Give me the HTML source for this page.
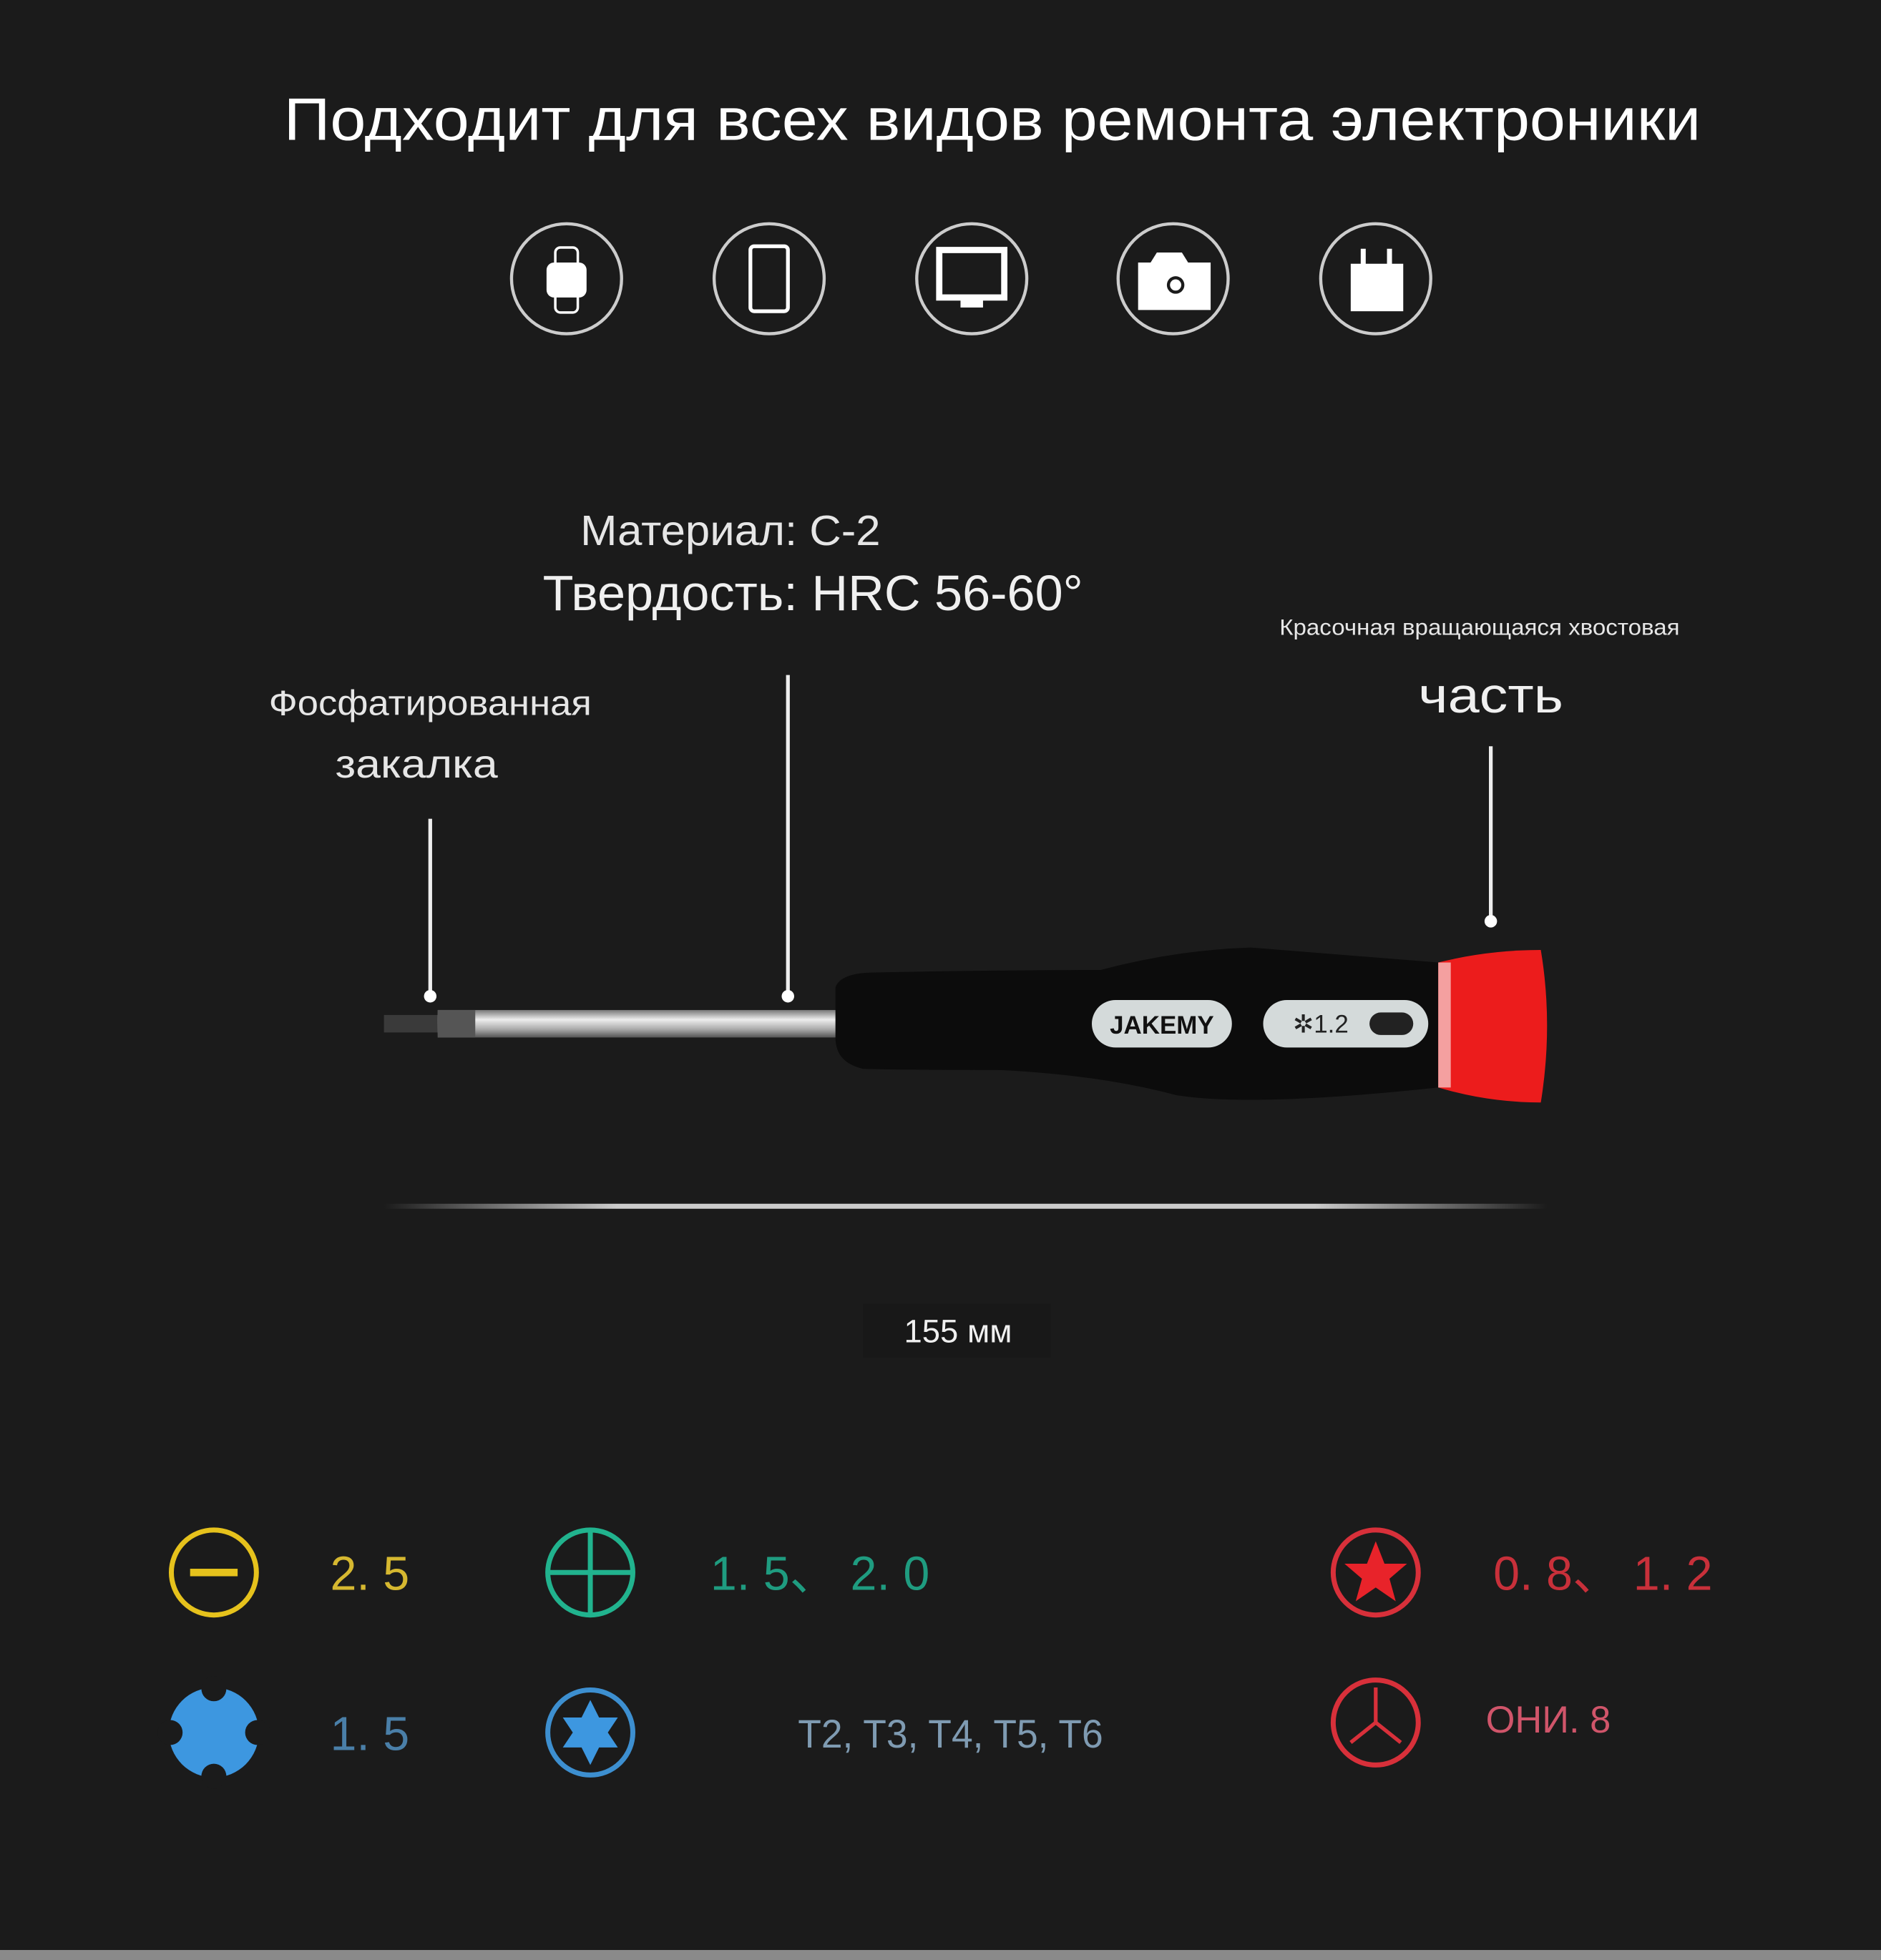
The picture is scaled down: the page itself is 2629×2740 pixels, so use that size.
<!DOCTYPE html>
<html><head><meta charset="utf-8"><style>
html,body{margin:0;padding:0;background:#1b1b1b;}
svg{display:block}
text{font-family:"Liberation Sans","DejaVu Sans",sans-serif;}
</style></head><body>
<svg width="2629" height="2740" viewBox="0 0 1504 1568" preserveAspectRatio="none" xmlns="http://www.w3.org/2000/svg">
<defs>
<linearGradient id="shaft" x1="0" y1="0" x2="0" y2="1">
<stop offset="0" stop-color="#777"/><stop offset="0.35" stop-color="#eee"/><stop offset="0.7" stop-color="#aaa"/><stop offset="1" stop-color="#555"/>
</linearGradient>
<linearGradient id="line" x1="0" y1="0" x2="1" y2="0">
<stop offset="0" stop-color="#1b1b1b"/><stop offset="0.2" stop-color="#ccc"/><stop offset="0.8" stop-color="#ccc"/><stop offset="1" stop-color="#1b1b1b"/>
</linearGradient>
</defs>
<rect width="1504" height="1568" fill="#1b1b1b"/>
<rect y="1560" width="1504" height="8" fill="#8a8a8a"/>
<text x="227" y="112" fill="#fff" font-size="48" textLength="1133" lengthAdjust="spacingAndGlyphs">Подходит для всех видов ремонта электроники</text>

<g fill="none" stroke="#ccc" stroke-width="2.5">
<circle cx="453" cy="223" r="44"/><circle cx="615" cy="223" r="44"/><circle cx="777" cy="223" r="44"/><circle cx="938" cy="223" r="44"/><circle cx="1100" cy="223" r="44"/>
</g>
<g fill="#fff">
<rect x="444" y="198" width="18" height="52" rx="4" fill="none" stroke="#fff" stroke-width="2"/>
<rect x="437" y="210" width="32" height="28" rx="6"/>
<rect x="600" y="197" width="30" height="52" rx="3" fill="none" stroke="#fff" stroke-width="3"/>
<rect x="751" y="200" width="52" height="38" fill="none" stroke="#fff" stroke-width="5"/>
<rect x="768" y="238" width="18" height="8"/>
<path d="M910 210h10l5-8h20l5 8h18v38h-58z"/>
<circle cx="940" cy="228" r="7" fill="#1b1b1b"/><circle cx="940" cy="228" r="4.5" fill="#fff"/>
<rect x="1080" y="211" width="42" height="38"/>
<rect x="1088" y="199" width="4" height="14"/><rect x="1109" y="199" width="4" height="14"/>
</g>

<text x="464" y="436" fill="#e6e6e6" font-size="34" textLength="240" lengthAdjust="spacingAndGlyphs">Материал: С-2</text>
<text x="434" y="488" fill="#f0f0f0" font-size="40" textLength="432" lengthAdjust="spacingAndGlyphs">Твердость: HRC 56-60°</text>
<text x="1023" y="508" fill="#e6e6e6" font-size="18" textLength="320" lengthAdjust="spacingAndGlyphs">Красочная вращающаяся хвостовая</text>
<text x="1134" y="570" fill="#f0f0f0" font-size="40" textLength="116" lengthAdjust="spacingAndGlyphs">часть</text>
<text x="215" y="572" fill="#e6e6e6" font-size="28" textLength="258" lengthAdjust="spacingAndGlyphs">Фосфатированная</text>
<text x="268" y="622" fill="#e6e6e6" font-size="32" textLength="130" lengthAdjust="spacingAndGlyphs">закалка</text>

<g stroke="#eee" stroke-width="3"><line x1="344" y1="655" x2="344" y2="795"/><line x1="630" y1="540" x2="630" y2="795"/><line x1="1192" y1="597" x2="1192" y2="735"/></g>
<g fill="#fff"><circle cx="344" cy="797" r="5"/><circle cx="630" cy="797" r="5"/><circle cx="1192" cy="737" r="5"/></g>

<path d="M307 812h45v14h-45z" fill="#3a3a3a"/>
<rect x="350" y="808" width="320" height="22" fill="url(#shaft)"/>
<rect x="350" y="808" width="30" height="22" fill="#555"/>
<path d="M668 790 Q672 778 700 778 Q800 776 880 776 Q940 760 1000 758 L1150 770 L1150 870 Q1000 886 940 876 Q880 860 800 856 Q720 856 690 855 Q668 850 668 830 Z" fill="#0c0c0c"/>
<path d="M1150 770 Q1190 760 1232 760 Q1242 820 1232 882 Q1190 882 1150 870 Z" fill="#ec1c1c"/>
<rect x="1150" y="770" width="10" height="100" fill="#f4a0a0"/>
<rect x="873" y="800" width="112" height="38" rx="19" fill="#d4dada"/>
<text x="929" y="827" fill="#111" font-size="20" font-weight="bold" text-anchor="middle">JAKEMY</text>
<rect x="1010" y="800" width="132" height="38" rx="19" fill="#d4dada"/>
<text x="1056" y="826" fill="#222" font-size="20" text-anchor="middle">✲1.2</text>
<rect x="1095" y="810" width="35" height="18" rx="9" fill="#222"/>

<rect x="307" y="963" width="930" height="4" fill="url(#line)"/>
<rect x="690" y="1043" width="150" height="43" fill="#181818"/>
<text x="766" y="1074" fill="#f0f0f0" font-size="26" text-anchor="middle">155 мм</text>

<g fill="none" stroke-width="4">
<circle cx="171" cy="1258" r="34" stroke="#e6c21c"/><circle cx="472" cy="1258" r="34" stroke="#21b38e"/>
<circle cx="1100" cy="1258" r="34" stroke="#d8303a"/><circle cx="1100" cy="1378" r="34" stroke="#d8303a"/>
<circle cx="472" cy="1386" r="34" stroke="#3d8fd0"/>
</g>
<rect x="152" y="1255" width="38" height="6" fill="#e6c21c"/>
<g stroke="#21b38e" stroke-width="4"><line x1="472" y1="1224" x2="472" y2="1292"/><line x1="438" y1="1258" x2="506" y2="1258"/></g>
<polygon points="1100,1233 1107,1251 1125,1251 1111,1263 1116,1281 1100,1270 1084,1281 1089,1263 1075,1251 1093,1251" fill="#e8232a"/>
<g stroke="#d8303a" stroke-width="3"><line x1="1100" y1="1378" x2="1100" y2="1350"/><line x1="1100" y1="1378" x2="1080" y2="1394"/><line x1="1100" y1="1378" x2="1120" y2="1394"/></g>
<circle cx="171" cy="1386" r="36" fill="#3d97e0"/>
<g fill="#1b1b1b"><circle cx="171" cy="1351" r="10"/><circle cx="171" cy="1421" r="10"/><circle cx="136" cy="1386" r="10"/><circle cx="206" cy="1386" r="10"/></g>
<polygon points="472,1360 479,1374 494,1374 486,1386 494,1398 479,1398 472,1412 465,1398 450,1398 458,1386 450,1374 465,1374" fill="#3d97e0"/>

<text x="264" y="1272" fill="#d6b830" font-size="38">2. 5</text>
<text x="568" y="1272" fill="#1f9c80" font-size="38">1. 5、 2. 0</text>
<text x="1194" y="1272" fill="#c8303a" font-size="38">0. 8、 1. 2</text>
<text x="264" y="1400" fill="#4a7fa8" font-size="38">1. 5</text>
<text x="638" y="1398" fill="#7f9bb2" font-size="32" textLength="244" lengthAdjust="spacingAndGlyphs">T2, T3, T4, T5, T6</text>
<text x="1188" y="1386" fill="#d0556a" font-size="30">ОНИ. 8</text>
</svg>
</body></html>
